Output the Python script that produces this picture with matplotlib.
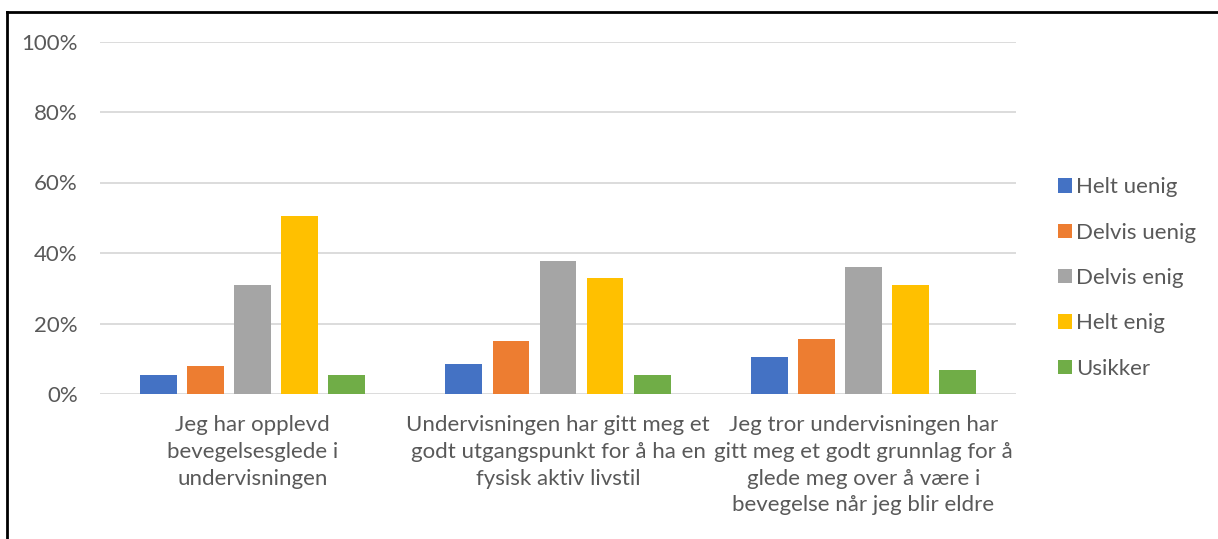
import numpy as np
from matplotlib import pyplot as plt
from matplotlib.lines import Line2D

# Categories (statements) and answer shares
categories = [
    "Jeg har opplevd\nbevegelsesglede i\nundervisningen",
    "Undervisningen har gitt meg et\ngodt utgangspunkt for å ha en\nfysisk aktiv livstil",
    "Jeg tror undervisningen har\ngitt meg et godt grunnlag for å\nglede meg over å være i\nbevegelse når jeg blir eldre",
]
series_names = ["Helt uenig", "Delvis uenig", "Delvis enig", "Helt enig", "Usikker"]
helt_uenig = [0.053, 0.084, 0.104]
delvis_uenig = [0.079, 0.150, 0.155]
delvis_enig = [0.308, 0.377, 0.360]
helt_enig = [0.504, 0.329, 0.308]
usikker = [0.054, 0.054, 0.068]
yticks = [0, 0.2, 0.4, 0.6, 0.8, 1.0]
ytick_labels = ["0%", "20%", "40%", "60%", "80%", "100%"]

colors = ["#4472C4", "#ED7D31", "#A5A5A5", "#FFC000", "#70AD47"]
TEXT = "#595959"
GRID = "#D9D9D9"
FS = 16

plt.rcParams["font.family"] = ["Lato", "DejaVu Sans"]

W, H = 1218, 539
fig = plt.figure(figsize=(W / 100, H / 100), dpi=100)
ax = fig.add_axes([100 / W, 1 - 394 / H, 916 / W, 352.5 / H])

x = np.arange(len(categories))
pitch = 0.154
width = 0.121
all_series = [helt_uenig, delvis_uenig, delvis_enig, helt_enig, usikker]
bars = []
for i, (vals, name, c) in enumerate(zip(all_series, series_names, colors)):
    b = ax.bar(x + (i - 2) * pitch, vals, width, color=c, label=name, zorder=3)
    bars.append(b)

ax.set_xlim(-0.5, 2.5)
ax.set_ylim(0, 1.0)
ax.set_yticks(yticks)
ax.set_yticklabels(ytick_labels)
ax.set_xticks(x)
ax.set_xticklabels(categories, linespacing=1.43)
ax.tick_params(axis="both", length=0, colors=TEXT, labelsize=FS)
ax.tick_params(axis="y", pad=16)
ax.tick_params(axis="x", pad=15)
ax.yaxis.grid(True, color=GRID, linewidth=1.3, zorder=0)
ax.set_axisbelow(True)
for s in ax.spines.values():
    s.set_visible(False)

leg = fig.legend(
    handles=[b[0] for b in bars],
    labels=series_names,
    loc="center left",
    bbox_to_anchor=(1058 / W, 1 - 278 / H),
    frameon=False,
    fontsize=FS,
    labelcolor=TEXT,
    borderpad=0,
    borderaxespad=0,
    handlelength=0.63,
    handleheight=0.63,
    handletextpad=0.2,
    labelspacing=1.14,
)

# frame lines (top and left only visible in reference)
fig.add_artist(Line2D([6.5 / W, 1.0], [1 - 12 / H, 1 - 12 / H], color="black", linewidth=2, transform=fig.transFigure))
fig.add_artist(Line2D([6.5 / W, 6.5 / W], [0, 1 - 12 / H], color="black", linewidth=2, transform=fig.transFigure))

plt.savefig("out.png", dpi=100)
